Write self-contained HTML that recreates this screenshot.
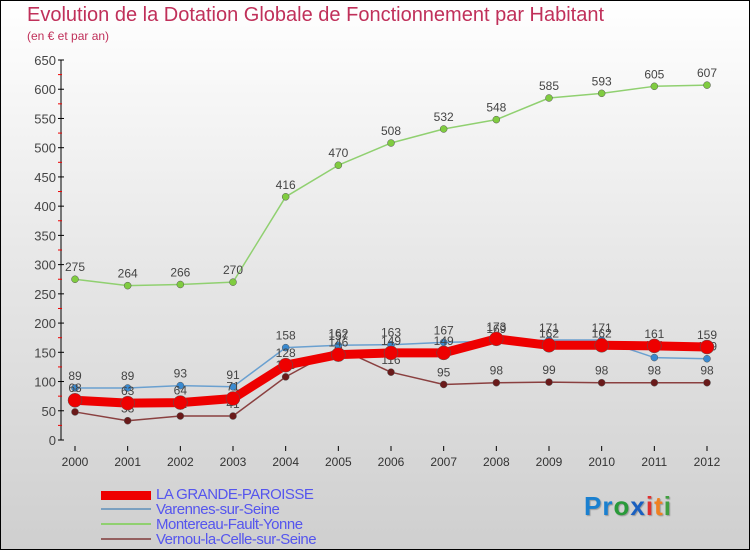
<!DOCTYPE html>
<html><head><meta charset="utf-8"><style>
body{margin:0;width:750px;height:550px;overflow:hidden;font-family:"Liberation Sans",sans-serif}
#root{position:relative;width:748px;height:548px;border:1px solid #000;background:linear-gradient(#fff 0%,#e6e6e6 50%,#cfcfcf 100%)}
.t{position:absolute;color:#c0305a}
.leg{position:absolute;left:155px;font-size:15px;color:#5555ee;line-height:15px;letter-spacing:-0.5px}
.sw{position:absolute;left:100px;width:50px}
</style></head><body>
<div id="root">
<div class="t" style="left:26px;top:3px;font-size:20px;">Evolution de la Dotation Globale de Fonctionnement par Habitant</div>
<div class="t" style="left:26px;top:28px;font-size:12px;">(en € et par an)</div>
<svg id="plot" width="750" height="550" style="position:absolute;left:-1px;top:-1px"></svg>
<div class="sw" style="top:490px;height:9px;background:#e00"></div>
<div class="sw" style="top:507px;height:2px;background:#7aa0c0"></div>
<div class="sw" style="top:522px;height:2px;background:#90d070"></div>
<div class="sw" style="top:537px;height:2px;background:#946060"></div>
<div class="leg" style="top:486px">LA GRANDE-PAROISSE</div>
<div class="leg" style="top:501px">Varennes-sur-Seine</div>
<div class="leg" style="top:516px">Montereau-Fault-Yonne</div>
<div class="leg" style="top:531px">Vernou-la-Celle-sur-Seine</div>
<div style="position:absolute;left:583px;top:490px;font-size:26px;font-weight:bold;letter-spacing:1px;text-shadow:1px 1px 1px #999"><span style="color:#1a80d0">Pr</span><span style="color:#2a9a3a">o</span><span style="color:#1a60c0">x</span><span style="color:#e03030">i</span><span style="color:#f08020">t</span><span style="color:#40a040">i</span></div>
</div>
<script>
const years=[2000,2001,2002,2003,2004,2005,2006,2007,2008,2009,2010,2011,2012];
const grande=[68,63,64,71,128,146,149,149,173,162,162,161,159];
const varennes=[89,89,93,91,158,162,163,167,169,171,171,141,139];
const montereau=[275,264,266,270,416,470,508,532,548,585,593,605,607];
const vernou=[48,33,41,41,108,157,116,95,98,99,98,98,98];
const yTicks=[0,50,100,150,200,250,300,350,400,450,500,550,600,650];
const NS='http://www.w3.org/2000/svg';
const svg=document.getElementById('plot');
const X=i=>75+i*(707-75)/(years.length-1);
const Y=v=>440-v*(380/650);
function mk(tag,attrs){const e=document.createElementNS(NS,tag);for(const k in attrs)e.setAttribute(k,attrs[k]);svg.appendChild(e);return e;}
let ax=mk('line',{x1:61,y1:60,x2:61,y2:440,stroke:'#000'});


yTicks.forEach(v=>{
 mk('line',{x1:58,x2:64,y1:Y(v),y2:Y(v),stroke:'#000'});
 if(v<650)mk('line',{x1:58,x2:62,y1:Y(v+25),y2:Y(v+25),stroke:'#e00'});
 const t=mk('text',{x:56,y:Y(v)+5,'text-anchor':'end','font-size':13,fill:'#444','font-family':'Liberation Sans'});
 t.textContent=v;
 
 
});
years.forEach((yr,i)=>{
 mk('line',{x1:X(i),x2:X(i),y1:446,y2:451,stroke:'#000'});
 const t=mk('text',{x:X(i),y:466,'text-anchor':'middle','font-size':12,fill:'#333','font-family':'Liberation Sans'});
 t.textContent=yr;
 
 
});
function series(data,color,w,r,name,dot){
 const p=mk('polyline',{points:data.map((v,i)=>X(i)+','+Y(v)).join(' '),fill:'none',stroke:color,'stroke-width':w,'stroke-linejoin':'round'});
 
 
 data.forEach((v,i)=>{
  const c=mk('circle',{cx:X(i),cy:Y(v),r:r,fill:dot,stroke:'#555','stroke-width':0.5});
  
  
  const t=mk('text',{x:X(i),y:Y(v)-8,'text-anchor':'middle','font-size':12,fill:'#444','font-family':'Liberation Sans'});
  t.textContent=v;
  
  
 });
}
series(montereau,'#90d070',1.5,3.5,'montereau','#80cc40');
series(vernou,'#8a4040',1.5,3.5,'vernou','#6a1a1a');
series(varennes,'#6aa0d0',1.5,3.5,'varennes','#3a8ad0');
series(grande,'#ee0000',9,7,'grande-paroisse','#ee0000');
</script>
</body></html>
